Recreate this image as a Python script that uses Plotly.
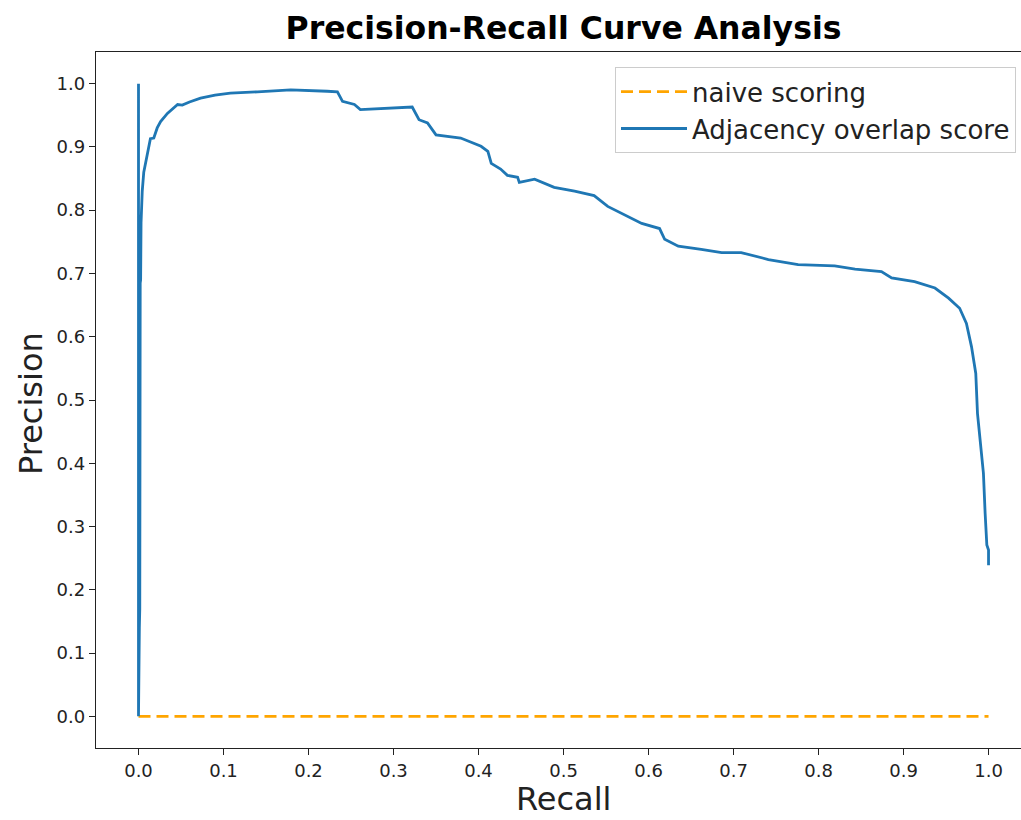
import plotly.graph_objects as go

# ---- data ----
naive_recall = [0.0, 1.0]
naive_precision = [0.0, 0.0]

adj_recall = [0.0, 0.0, 0.001, 0.0015, 0.002, 0.0025, 0.003, 0.0044, 0.0062, 0.009,
              0.012, 0.014, 0.018, 0.022, 0.026, 0.034, 0.046, 0.0515, 0.060, 0.073,
              0.090, 0.108, 0.140, 0.179, 0.222, 0.234, 0.240, 0.250, 0.254, 0.261,
              0.290, 0.320, 0.322, 0.330, 0.340, 0.350, 0.379, 0.403, 0.411, 0.415,
              0.426, 0.434, 0.446, 0.448, 0.466, 0.489, 0.513, 0.536, 0.552, 0.592,
              0.613, 0.619, 0.635, 0.662, 0.686, 0.709, 0.721, 0.741, 0.776, 0.819,
              0.843, 0.874, 0.886, 0.913, 0.937, 0.953, 0.966, 0.974, 0.980, 0.985,
              0.987, 0.990, 0.994, 0.996, 0.998, 1.0, 1.0]
adj_precision = [1.0, 0.0, 0.14, 0.17, 0.685, 0.69, 0.78, 0.83, 0.86, 0.88,
                 0.90, 0.913, 0.914, 0.93, 0.94, 0.953, 0.967, 0.966, 0.971, 0.977,
                 0.982, 0.985, 0.987, 0.990, 0.988, 0.987, 0.972, 0.969, 0.967, 0.959,
                 0.961, 0.964, 0.963, 0.943, 0.938, 0.919, 0.914, 0.901, 0.893, 0.874,
                 0.865, 0.855, 0.852, 0.844, 0.849, 0.836, 0.830, 0.823, 0.806, 0.779,
                 0.771, 0.754, 0.743, 0.738, 0.733, 0.733, 0.729, 0.722, 0.714, 0.712,
                 0.707, 0.703, 0.693, 0.687, 0.677, 0.661, 0.645, 0.621, 0.584, 0.542,
                 0.479, 0.437, 0.384, 0.321, 0.271, 0.263, 0.239]

tick_vals = [i / 10 for i in range(11)]
tick_text = [f"{v:.1f}" for v in tick_vals]

FONT = "DejaVu Sans"

fig = go.Figure()
fig.add_trace(go.Scatter(
    x=naive_recall, y=naive_precision, mode="lines", name="naive scoring",
    legendgroup="a",
    line=dict(color="#FFA500", width=2.7, dash="12px,6px")))
fig.add_trace(go.Scatter(
    x=adj_recall, y=adj_precision, mode="lines", name="Adjacency overlap score",
    legendgroup="b",
    line=dict(color="#1f77b4", width=2.8)))

axis_common = dict(
    showgrid=False, zeroline=False, showline=True, linecolor="#222222", linewidth=1.4,
    ticks="outside", ticklen=6, tickwidth=1.4, tickcolor="#222222",
    tickfont=dict(family=FONT, size=18, color="#222222"),
    tickvals=tick_vals, ticktext=tick_text,
)

fig.update_layout(
    width=1021, height=820,
    margin=dict(l=96, r=0, t=52, b=72),
    paper_bgcolor="white", plot_bgcolor="white",
    xaxis=dict(range=[-0.05, 1.0382], mirror=True, **axis_common),
    yaxis=dict(range=[-0.05, 1.05], mirror=False, **axis_common),
    title=dict(text="<b>Precision-Recall Curve Analysis</b>",
               font=dict(family=FONT, size=31.5, color="black"),
               x=0.5054, xref="paper", xanchor="center",
               y=1 - 28 / 820, yref="container", yanchor="middle"),
    legend=dict(x=0.9946, y=0.978, xanchor="right", yanchor="top",
                bgcolor="white", bordercolor="#cccccc", borderwidth=1,
                font=dict(family=FONT, size=26, color="#222222"),
                itemwidth=66, tracegroupgap=7, traceorder="normal"),
    annotations=[
        dict(text="Recall", x=0.5054, y=(748 - 799) / 696, xref="paper", yref="paper",
             xanchor="center", yanchor="middle", showarrow=False,
             font=dict(family=FONT, size=32, color="#222222")),
        dict(text="Precision", x=(31 - 96) / 925, y=(748 - 404) / 696, xref="paper",
             yref="paper", xanchor="center", yanchor="middle", showarrow=False,
             textangle=-90, font=dict(family=FONT, size=32, color="#222222")),
    ],
)

fig.write_html("out.html", config={"displayModeBar": False},
               post_script="document.body.style.margin='0';document.body.style.overflow='hidden';")
